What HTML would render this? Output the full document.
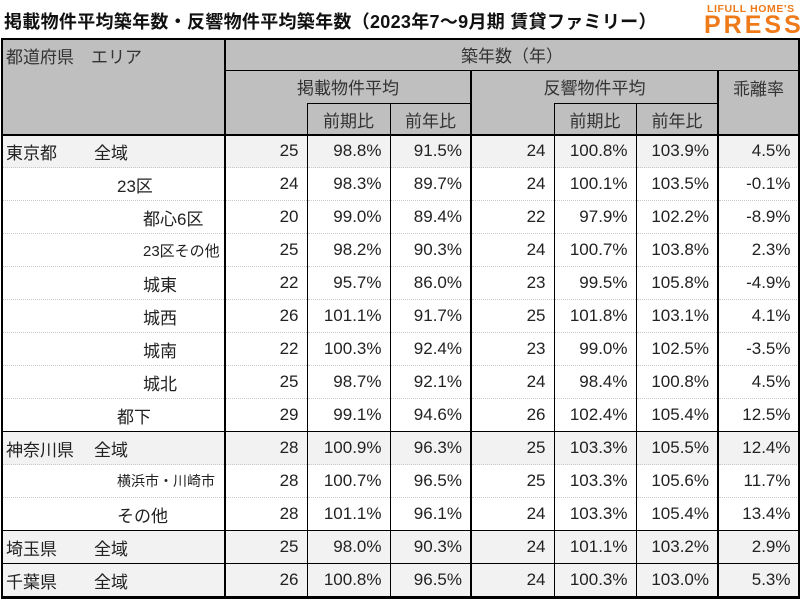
<!DOCTYPE html>
<html><head><meta charset="utf-8"><style>
body{margin:0;width:800px;height:600px;background:#fff;position:relative;overflow:hidden;font-family:"Liberation Sans","Noto Sans CJK JP",sans-serif;color:#222}
.a{position:absolute}
.title{left:4px;top:8px;font-size:18px;font-weight:bold;color:#111;white-space:nowrap;letter-spacing:0.3px}
.logo1{left:707px;top:3px;font-size:10.5px;font-weight:bold;color:#ef7a1a;letter-spacing:0.6px}
.logo2{left:704px;top:12px;font-size:25px;font-weight:bold;color:#ef7a1a;letter-spacing:3px;line-height:26px}
.hd{background:#bfbfbf;font-size:17px;color:#333;display:flex;align-items:center;justify-content:center;box-sizing:border-box}
table{position:absolute;left:2px;top:135px;border-collapse:collapse;table-layout:fixed;width:797px;font-size:17px}
td{height:32px;padding:0 8px 0 0;text-align:right;border-right:1px solid #000;border-bottom:1px dotted #c8c8c8;white-space:nowrap;color:#222}
td.n{text-align:left;padding:0}
td.tk{border-right:2px solid #000}
tr.g td{background:#f2f2f2}
tr.e td{border-bottom:1px solid #000}
.line{position:absolute;background:#000}
</style></head><body>
<div class="a title">掲載物件平均築年数・反響物件平均築年数（2023年7～9月期 賃貸ファミリー）</div>
<div class="a logo1">LIFULL HOME'S</div>
<div class="a logo2">PRESS</div>

<div class="a hd" style="left:2px;top:38px;width:223px;height:97px;align-items:flex-start;justify-content:flex-start;padding:5px 0 0 4px">都道府県　エリア</div>
<div class="a hd" style="left:225px;top:38px;width:574px;height:32px">築年数（年）</div>
<div class="a hd" style="left:225px;top:70px;width:246px;height:33px">掲載物件平均</div>
<div class="a hd" style="left:225px;top:103px;width:82px;height:32px"></div>
<div class="a hd" style="left:307px;top:103px;width:83px;height:32px">前期比</div>
<div class="a hd" style="left:390px;top:103px;width:81px;height:32px">前年比</div>
<div class="a hd" style="left:471px;top:70px;width:247px;height:33px">反響物件平均</div>
<div class="a hd" style="left:471px;top:103px;width:83px;height:32px"></div>
<div class="a hd" style="left:554px;top:103px;width:82px;height:32px">前期比</div>
<div class="a hd" style="left:636px;top:103px;width:82px;height:32px">前年比</div>
<div class="a hd" style="left:718px;top:70px;width:81px;height:65px;align-items:flex-start;padding-top:5px">乖離率</div>
<div class="line" style="left:225px;top:70px;width:574px;height:1px"></div>
<div class="line" style="left:307px;top:103px;width:164px;height:1px"></div>
<div class="line" style="left:554px;top:103px;width:164px;height:1px"></div>
<div class="line" style="left:307px;top:103px;width:1px;height:32px"></div>
<div class="line" style="left:390px;top:103px;width:1px;height:32px"></div>
<div class="line" style="left:554px;top:103px;width:1px;height:32px"></div>
<div class="line" style="left:636px;top:103px;width:1px;height:32px"></div>
<div class="line" style="left:470px;top:70px;width:2px;height:65px"></div>
<div class="line" style="left:717px;top:70px;width:2px;height:65px"></div>

<table>
<colgroup><col style="width:223px"><col style="width:82px"><col style="width:83px"><col style="width:81px"><col style="width:83px"><col style="width:82px"><col style="width:82px"><col style="width:81px"></colgroup>
<tr class="g"><td class="n tk"><span style="margin-left:4px">東京都</span><span style="margin-left:37px">全域</span></td><td>25</td><td>98.8%</td><td class="tk">91.5%</td><td>24</td><td>100.8%</td><td class="tk">103.9%</td><td>4.5%</td></tr>
<tr><td class="n tk"><span style="margin-left:115px">23区</span></td><td>24</td><td>98.3%</td><td class="tk">89.7%</td><td>24</td><td>100.1%</td><td class="tk">103.5%</td><td>-0.1%</td></tr>
<tr><td class="n tk"><span style="margin-left:141px">都心6区</span></td><td>20</td><td>99.0%</td><td class="tk">89.4%</td><td>22</td><td>97.9%</td><td class="tk">102.2%</td><td>-8.9%</td></tr>
<tr><td class="n tk"><span style="margin-left:141px;font-size:15px">23区その他</span></td><td>25</td><td>98.2%</td><td class="tk">90.3%</td><td>24</td><td>100.7%</td><td class="tk">103.8%</td><td>2.3%</td></tr>
<tr><td class="n tk"><span style="margin-left:141px">城東</span></td><td>22</td><td>95.7%</td><td class="tk">86.0%</td><td>23</td><td>99.5%</td><td class="tk">105.8%</td><td>-4.9%</td></tr>
<tr><td class="n tk"><span style="margin-left:141px">城西</span></td><td>26</td><td>101.1%</td><td class="tk">91.7%</td><td>25</td><td>101.8%</td><td class="tk">103.1%</td><td>4.1%</td></tr>
<tr><td class="n tk"><span style="margin-left:141px">城南</span></td><td>22</td><td>100.3%</td><td class="tk">92.4%</td><td>23</td><td>99.0%</td><td class="tk">102.5%</td><td>-3.5%</td></tr>
<tr><td class="n tk"><span style="margin-left:141px">城北</span></td><td>25</td><td>98.7%</td><td class="tk">92.1%</td><td>24</td><td>98.4%</td><td class="tk">100.8%</td><td>4.5%</td></tr>
<tr class="e"><td class="n tk"><span style="margin-left:115px">都下</span></td><td>29</td><td>99.1%</td><td class="tk">94.6%</td><td>26</td><td>102.4%</td><td class="tk">105.4%</td><td>12.5%</td></tr>
<tr class="g"><td class="n tk"><span style="margin-left:4px">神奈川県</span><span style="margin-left:20px">全域</span></td><td>28</td><td>100.9%</td><td class="tk">96.3%</td><td>25</td><td>103.3%</td><td class="tk">105.5%</td><td>12.4%</td></tr>
<tr><td class="n tk"><span style="margin-left:115px;font-size:14px">横浜市・川崎市</span></td><td>28</td><td>100.7%</td><td class="tk">96.5%</td><td>25</td><td>103.3%</td><td class="tk">105.6%</td><td>11.7%</td></tr>
<tr class="e"><td class="n tk"><span style="margin-left:115px">その他</span></td><td>28</td><td>101.1%</td><td class="tk">96.1%</td><td>24</td><td>103.3%</td><td class="tk">105.4%</td><td>13.4%</td></tr>
<tr class="g e"><td class="n tk"><span style="margin-left:4px">埼玉県</span><span style="margin-left:37px">全域</span></td><td>25</td><td>98.0%</td><td class="tk">90.3%</td><td>24</td><td>101.1%</td><td class="tk">103.2%</td><td>2.9%</td></tr>
<tr class="g e"><td class="n tk"><span style="margin-left:4px">千葉県</span><span style="margin-left:37px">全域</span></td><td>26</td><td>100.8%</td><td class="tk">96.5%</td><td>24</td><td>100.3%</td><td class="tk">103.0%</td><td>5.3%</td></tr>
</table>

<div class="line" style="left:224px;top:38px;width:2px;height:97px"></div>
<div class="line" style="left:1px;top:134px;width:799px;height:2px"></div>
<div class="a" style="left:1px;top:38px;width:795px;height:557px;border:2px solid #000"></div>
</body></html>
